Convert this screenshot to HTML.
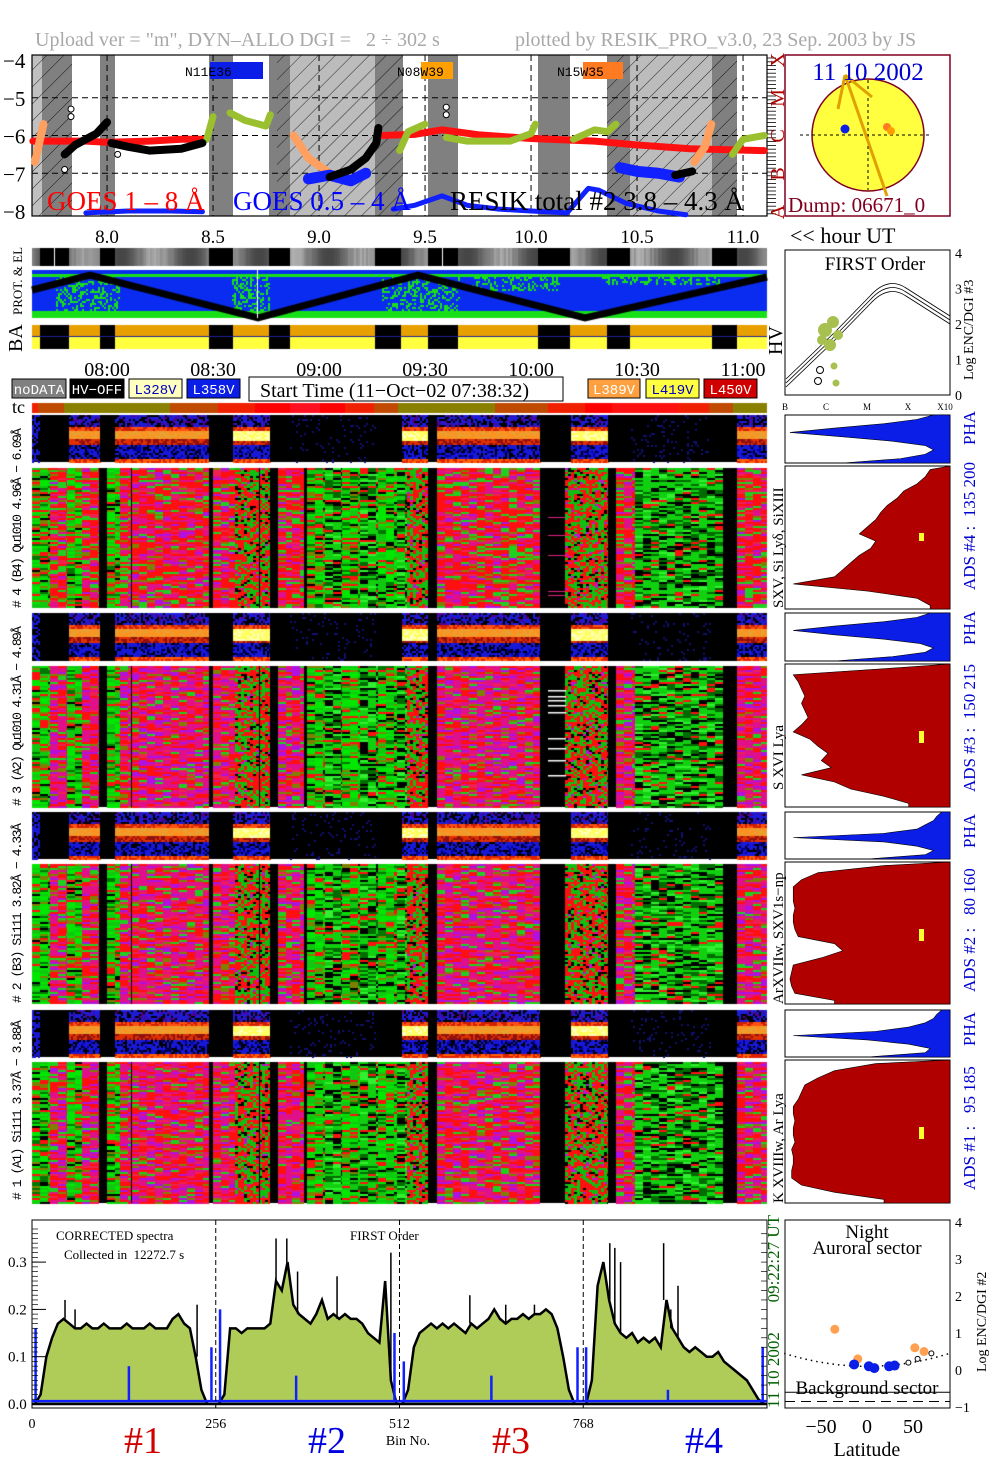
<!DOCTYPE html>
<html><head><meta charset="utf-8"><title>RESIK daily plot</title>
<style>
html,body{margin:0;padding:0;background:#fff;}
#wrap{position:relative;width:1004px;height:1477px;overflow:hidden;background:#fff;}
#tex{position:absolute;left:0;top:0;}
#ov{position:absolute;left:0;top:0;}
text{font-family:"Liberation Serif",serif;white-space:pre;}
.mono{font-family:"Liberation Mono",monospace;}
</style></head>
<body>
<div id="wrap">
<canvas id="tex" width="1004" height="1477"></canvas>
<svg id="ov" width="1004" height="1477" xmlns="http://www.w3.org/2000/svg">
 <g id="goesBg"></g>
 <g id="goesMarks"></g>
 <g id="staticText">
  <text x="35" y="46" font-size="20" fill="#a8a8a8" xml:space="preserve">Upload ver = "m", DYN–ALLO DGI =   2 ÷ 302 s</text>
  <text x="515" y="46" font-size="20" fill="#a8a8a8">plotted by RESIK_PRO_v3.0, 23 Sep. 2003 by JS</text>
  <text x="47" y="210" font-size="27" fill="#ff0000">GOES 1 – 8 Å</text>
  <text x="233" y="210" font-size="27" fill="#0000ff">GOES 0.5 – 4 Å</text>
  <text x="450" y="210" font-size="27" fill="#000">RESIK total #2 3.8 – 4.3 Å</text>
  <text x="790" y="243" font-size="22" fill="#000">&lt;&lt; hour UT</text>
  <text x="22" y="315" font-size="13" fill="#000" transform="rotate(-90 22 315)">PROT. &amp; EL</text>
  <text x="22" y="352" font-size="20" fill="#000" transform="rotate(-90 22 352)">BA</text>
  <text x="782" y="355" font-size="20" fill="#000" transform="rotate(-90 782 355)">HV</text>
  <text x="12" y="413" font-size="18" fill="#000">tc</text>
 </g>
 <g id="legend"></g>
 <g id="circleP"></g>
 <g id="firstP"></g>
 <g id="hists"></g>
 <g id="spec"></g>
 <g id="latP"></g>
</svg>
</div>
<script>
// ---------------- DATA ----------------
const goesTicks = [-4,-5,-6,-7,-8];
const hourTicks = [8.0,8.5,9.0,9.5,10.0,10.5,11.0];
const timeTicks = ["08:00","08:30","09:00","09:30","10:00","10:30","11:00"];
const goesLong = [[[7.65,-6.15],[7.9,-6.15],[8.0,-6.18],[8.2,-6.15],[8.35,-6.1],[8.45,-6.1]],
  [[9.29,-6.0],[9.45,-5.97],[9.58,-5.85],[9.75,-5.98],[10.0,-6.08],[10.3,-6.15],[10.5,-6.25],[10.75,-6.35],[11.1,-6.4]]];
const goesShort = [[[7.9,-8.05],[8.1,-8.0],[8.3,-8.0],[8.45,-8.02]],
  [[8.95,-7.15],[9.05,-7.05],[9.15,-7.2],[9.22,-7.0]],
  [[9.35,-7.95],[9.45,-7.85],[9.58,-7.6],[9.7,-7.85],[9.85,-7.95],[10.0,-8.0],[10.17,-8.05],[10.27,-7.4],[10.32,-7.45],[10.45,-7.8],[10.6,-8.0],[10.73,-8.1]],
  [[10.42,-6.85],[10.5,-6.95],[10.6,-7.0],[10.7,-7.1]]];
const resikTotal = [[[7.8,-6.5],[7.85,-6.25],[7.95,-5.95],[8.0,-5.65]],
  [[8.02,-6.2],[8.1,-6.3],[8.2,-6.4],[8.35,-6.35],[8.45,-6.2]],
  [[9.05,-7.1],[9.15,-6.9],[9.22,-6.6],[9.27,-6.2],[9.28,-5.8]],
  [[10.68,-7.05],[10.76,-6.95]]];
const goesOlive = [[[8.47,-6.1],[8.5,-5.5]],[[8.58,-5.4],[8.65,-5.6],[8.75,-5.75],[8.77,-5.45]],
  [[9.38,-6.4],[9.42,-5.9],[9.5,-5.7]],[[9.6,-6.05],[9.7,-6.15],[9.9,-6.15],[10.0,-5.95],[10.02,-5.7]],
  [[10.2,-6.1],[10.3,-5.85],[10.36,-5.9],[10.4,-5.7]],[[10.95,-6.5],[11.0,-6.1],[11.1,-6.0]]];
const goesOrange = [[[7.66,-6.7],[7.7,-5.7]],[[8.88,-6.0],[8.95,-6.6],[9.05,-7.0]],[[10.77,-6.7],[10.82,-6.3],[10.85,-5.7]]];

const specBins = [0,8,16,24,32,40,48,56,64,72,80,88,96,104,112,120,128,136,144,152,160,168,176,184,192,200,208,216,224,232,240,248,
 256,264,272,280,288,296,304,312,320,328,336,344,352,360,368,376,384,392,400,408,416,424,432,440,448,456,464,472,480,488,496,504,
 512,520,528,536,544,552,560,568,576,584,592,600,608,616,624,632,640,648,656,664,672,680,688,696,704,712,720,728,736,744,752,760,
 768,776,784,792,800,808,816,824,832,840,848,856,864,872,880,888,896,904,912,920,928,936,944,952,960,968,976,984,992,1000,1008,1016];
const specGreen = [0,0.02,0.1,0.14,0.17,0.18,0.17,0.16,0.16,0.17,0.16,0.16,0.17,0.16,0.16,0.16,0.17,0.16,0.16,0.16,0.17,0.16,0.16,0.16,0.18,0.19,0.17,0.16,0.10,0.03,0,0,
 0,0.02,0.16,0.16,0.15,0.16,0.16,0.16,0.16,0.17,0.26,0.24,0.3,0.21,0.19,0.18,0.17,0.19,0.22,0.18,0.19,0.18,0.19,0.18,0.18,0.17,0.15,0.14,0.13,0.26,0.05,0,
 0,0.03,0.12,0.15,0.16,0.17,0.16,0.17,0.16,0.17,0.16,0.15,0.17,0.16,0.17,0.18,0.2,0.18,0.17,0.18,0.18,0.19,0.18,0.19,0.19,0.2,0.19,0.16,0.1,0.03,0,0,
 0,0.05,0.25,0.3,0.22,0.17,0.15,0.14,0.15,0.13,0.14,0.13,0.14,0.12,0.22,0.16,0.14,0.12,0.11,0.12,0.11,0.1,0.1,0.11,0.09,0.08,0.07,0.06,0.05,0.03,0.01,0];
const spikeBins = [46,60,230,340,355,370,425,500,610,660,700,805,812,820,880,890,900];
const spikeVals = [0.22,0.2,0.21,0.35,0.35,0.28,0.27,0.32,0.23,0.21,0.21,0.34,0.33,0.3,0.34,0.2,0.25];
const blueBins = [5,135,250,262,368,505,518,640,760,772,886,1018];
const blueVals = [0.16,0.08,0.12,0.2,0.06,0.15,0.09,0.06,0.12,0.12,0.03,0.12];
const specYTicks = ["0.0","0.1","0.2","0.3"];
const binTicks = [0,256,512,768];

const latOrangeX=[-35,-10,52,62], latOrangeY=[1.1,0.3,0.6,0.5];
const latBlueX=[-14,2,8,24,30], latBlueY=[0.15,0.1,0.05,0.1,0.12];
const latOpenX=[45,55,70], latOpenY=[0.2,0.3,0.45];

const histRed4=[0.88,0.85,0.8,0.72,0.68,0.62,0.58,0.55,0.5,0.45,0.55,0.52,0.45,0.4,0.35,0.3,0.05,0.5,0.8,0.88];
const histRed3=[0.7,0.05,0.08,0.1,0.12,0.1,0.12,0.14,0.1,0.05,0.15,0.2,0.26,0.22,0.28,0.1,0.3,0.4,0.6,0.75];
const histRed2=[0.6,0.2,0.1,0.05,0.05,0.05,0.06,0.05,0.05,0.06,0.08,0.3,0.35,0.22,0.05,0.04,0.03,0.04,0.06,0.3];
const histRed1=[0.55,0.3,0.2,0.12,0.1,0.08,0.05,0.05,0.06,0.05,0.05,0.06,0.04,0.05,0.05,0.04,0.04,0.1,0.3,0.6];
const histPha4=[0.9,0.8,0.6,0.3,0.03,0.35,0.65,0.85,0.9,0.85,0.7,0.35];
const histPha3=[0.88,0.8,0.6,0.3,0.05,0.3,0.6,0.82,0.9,0.85,0.65,0.3];
const histPha2=[0.95,0.92,0.9,0.85,0.8,0.6,0.05,0.6,0.8,0.9,0.85,0.5];
const histPha1=[0.95,0.92,0.9,0.85,0.75,0.55,0.05,0.5,0.75,0.88,0.85,0.5];

// ---------------- helpers ----------------
const NS="http://www.w3.org/2000/svg";
function mk(tag,parent,attrs,name,inter){
  const e=document.createElementNS(NS,tag);
  for(const k in attrs) e.setAttribute(k,attrs[k]);
  
  
  parent.appendChild(e); return e;
}
function txt(parent,x,y,s,size,fill,name,extra){
  const a=Object.assign({x:x,y:y,'font-size':size,fill:fill},extra||{});
  const e=mk('text',parent,a,name,false); e.textContent=s; return e;
}
function hsh(a,b){let n=Math.sin(a*12.9898+b*78.233)*43758.5453;return n-Math.floor(n);}
const xH=h=>32+(h-7.646)*212;
const yL=l=>60+(-4-l)*37.75;

// ---------------- CANVAS TEXTURES ----------------
const cv=document.getElementById('tex').getContext('2d');
const blocks=[[40,69],[100,115],[209,233],[269,290],[375,401],[428,458],[538,570],[607,630],[712,737]];
for(let x=32;x<767;x++){const g=Math.floor(70+110*(0.5+0.5*Math.sin(x/11))*(0.7+0.3*hsh(Math.floor(x/2),3)));cv.fillStyle=`rgb(${g},${g},${g})`;cv.fillRect(x,248,1,18);}
cv.fillStyle='#000';blocks.forEach(b=>cv.fillRect(b[0],248,b[1]-b[0],18));
cv.fillStyle='#fff';cv.fillRect(54,248,1,18);cv.fillRect(442,248,1,18);
// PROT panel
cv.fillStyle='#0a2cf0';cv.fillRect(32,270,735,48);
cv.fillStyle='#18e018';
cv.fillRect(32,274,735,3);cv.fillRect(32,311,735,7);
for(let x=32;x<767;x+=2)for(let y=277;y<311;y+=2){const near=Math.abs(Math.sin((x-90)/50))*0.0;const r=hsh(x,y);
  const z=(x>55&&x<120)||(x>230&&x<270)||(x>380&&x<460)||(x>470&&x<560&&y<290)||(x>600&&x<720&&y<285);
  if(z&&r<0.35){cv.fillRect(x,y,2,2);}}
cv.strokeStyle='#000';cv.lineWidth=7;cv.beginPath();
[[32,290],[90,275],[258,318],[418,275],[585,318],[767,277]].forEach((p,i)=>i?cv.lineTo(p[0],p[1]):cv.moveTo(p[0],p[1]));cv.stroke();
cv.fillStyle='#fff';cv.fillRect(257,270,1,48);
// BA bar
cv.fillStyle='#e8a000';cv.fillRect(32,325,735,12);cv.fillStyle='#ffff40';cv.fillRect(32,337,735,12);
cv.fillStyle='#000';blocks.forEach(b=>cv.fillRect(b[0],325,b[1]-b[0],24));
cv.fillStyle='#20209a';cv.fillRect(32,336,735,1);
// tc bar
const tcSeg=[[32,38,'#f02000'],[38,64,'#c04a00'],[64,170,'#8a8000'],[170,218,'#c04a00'],[218,255,'#f02000'],[255,290,'#ff0000'],[290,320,'#ff1020'],[320,345,'#ff0000'],[345,374,'#f02000'],[374,398,'#c04a00'],[398,495,'#8a8000'],[495,548,'#c04a00'],[548,585,'#f02000'],[585,612,'#ff0000'],[612,679,'#ff1010'],[679,709,'#f02000'],[709,733,'#c04a00'],[733,767,'#8a8000']];
tcSeg.forEach(s=>{cv.fillStyle=s[2];cv.fillRect(s[0],403,s[1]-s[0],10);});
// big spectrograms
const segs=[[32,50,'g'],[50,67,'r'],[67,82,'g'],[82,99,'r'],[99,107,'k'],[107,120,'g'],[120,131,'r'],[131,209,'r'],[209,213,'k'],[213,235,'r'],[235,270,'x'],[270,278,'k'],[278,292,'r'],[292,304,'r'],[304,307,'k'],[307,325,'g'],[325,342,'d'],[342,360,'g'],[360,378,'d'],[378,397,'g'],[397,407,'d'],[407,428,'x'],[428,437,'k'],[437,540,'r'],[540,565,'k'],[565,608,'x'],[608,616,'k'],[616,635,'r'],[635,723,'d'],[723,737,'k'],[737,767,'r']];
function pick(t,r,mag){
  if(t==='g'){return r<0.55?(r<0.3?'#00e800':'#10c810'):r<0.7?'#ff1010':r<0.82?'#808000':r<0.93?'#007800':'#000';}
  if(t==='r'){return r<0.5-mag?'#ff0f10':r<0.62?'#e0108a':r<0.62+mag*0.6?'#b010e0':r<0.85?'#20d020':r<0.93?'#808000':'#f02050';}
  if(t==='d'){return r<0.4?'#10d010':r<0.6?'#006c00':r<0.8?'#000':r<0.9?'#30f030':'#ff1010';}
  return r<0.45?'#ff1010':r<0.85?'#10c010':r<0.95?'#000':'#c010d0';
}
function bigPanel(y0,y1,mag,seed){
  segs.forEach(s=>{
    if(s[2]==='k'){cv.fillStyle='#000';cv.fillRect(s[0],y0,s[1]-s[0],y1-y0);return;}
    const w=s[2]==='x'?3:8;
    for(let x=s[0];x<s[1];x+=w){const ww=Math.min(w,s[1]-x);
      for(let y=y0;y<y1;y+=2){cv.fillStyle=pick(s[2],hsh(x+seed,y),mag);cv.fillRect(x,y,ww,2);}}
  });
  cv.fillStyle='#000';cv.fillRect(131,y0,1,y1-y0);cv.fillRect(259,y0,1,y1-y0);
}
bigPanel(468,608,0.1,1);bigPanel(666,807,0.25,7);bigPanel(864,1004,0.2,13);bigPanel(1062,1203,0.2,19);
cv.fillStyle='#fff';[690,696,700,705,712,738,748,760,775].forEach(y=>cv.fillRect(548,y,18,1.5));
cv.fillStyle='#e02080';[517,535,555,591,595].forEach(y=>cv.fillRect(548,y,18,1));
// PHA strips
const phaSegs=[[32,40,'b'],[40,69,'k'],[69,100,'o'],[100,115,'k'],[115,209,'o'],[209,233,'k'],[233,270,'y'],[270,290,'k'],[290,376,'s'],[376,402,'k'],[402,428,'y'],[428,437,'k'],[437,540,'o'],[540,571,'k'],[571,608,'y'],[608,631,'k'],[631,711,'s'],[711,737,'k'],[737,767,'o']];
function phaPanel(y0,y1,seed){
  const H=y1-y0;
  phaSegs.forEach(s=>{
    cv.fillStyle='#000';cv.fillRect(s[0],y0,s[1]-s[0],H);
    if(s[2]==='k')return;
    for(let x=s[0];x<s[1];x+=2)for(let y=y0;y<y1;y+=2){
      const f=(y-y0)/H,r=hsh(x*1.3+seed,y);let c=null;
      if(s[2]==='s'){if(r<0.08)c='#101070';}
      else if(s[2]==='b'){c=r<0.6?'#1818d0':null;}
      else{
        const yel=s[2]==='y';
        if(f<0.25)c=r<0.5?'#1c1cd8':(r<0.65?'#500090':null);
        else if(f<0.33)c=r<0.5?'#d02000':'#ff5010';
        else if(f<(yel?0.55:0.5))c=yel?(r<0.6?'#ffff60':'#ffffc0'):(r<0.5?'#ff9020':'#e8a030');
        else if(f<0.6)c=r<0.5?'#e03000':'#901010';
        else if(f<0.9)c=r<0.55?'#1818d8':(r<0.7?'#0000a0':null);
        else c=r<0.5?'#ff6000':'#e02000';
      }
      if(c){cv.fillStyle=c;cv.fillRect(x,y,2,2);}
    }
  });
}
phaPanel(415,462,2);phaPanel(613,661,5);phaPanel(812,859,9);phaPanel(1010,1057,11);

// ---------------- GOES panel ----------------
const gB=document.getElementById('goesBg');
mk('rect',gB,{x:32,y:55,width:735,height:161,fill:'#fff',stroke:'none'},'goes-plot-area',false);
const bands=[[32,42,'#c0c0c0',1],[42,72,'#808080',1],[100,115,'#808080',0],[209,233,'#808080',0],[269,277,'#808080',0],[277,290,'#808080',1],[290,375,'#bcbcbc',1],[375,403,'#808080',1],[428,458,'#808080',0],[538,570,'#808080',0],[607,630,'#808080',1],[630,712,'#bcbcbc',1],[712,737,'#808080',1]];
const defs=mk('defs',gB,{},'defs',false);
const pat=mk('pattern',defs,{id:'hatch',width:12,height:12,patternUnits:'userSpaceOnUse',patternTransform:'rotate(45)'},'hatch-pattern',false);
mk('line',pat,{x1:0,y1:0,x2:0,y2:12,stroke:'#000','stroke-width':0.8},'hatch-line',false);
bands.forEach(b=>{mk('rect',gB,{x:b[0],y:55,width:b[1]-b[0],height:161,fill:b[2]},'occultation-band',false);
  if(b[3])mk('rect',gB,{x:b[0],y:55,width:b[1]-b[0],height:161,fill:'url(#hatch)'},'hatched-band',false);});
goesTicks.forEach((t,i)=>{const y=yL(t);
  if(i>0&&i<4)mk('line',gB,{x1:32,x2:767,y1:y,y2:y,stroke:'#000','stroke-dasharray':'6,4','stroke-width':1},'goes-gridline',false);
  txt(gB,3,y+8,'−'+Math.abs(t),21,'#000','goes-y-tick');});
hourTicks.forEach((h,i)=>{const x=xH(h);
  mk('line',gB,{x1:x,x2:x,y1:55,y2:216,stroke:'#000','stroke-dasharray':'6,4','stroke-width':1},'goes-time-gridline',false);
  txt(gB,x,243,h.toFixed(1),19,'#000','hour-tick-label',{'text-anchor':'middle'});
  txt(gB,x,376,timeTicks[i],20,'#000','ut-time-label',{'text-anchor':'middle'});});
mk('rect',gB,{x:32,y:55,width:735,height:161,fill:'none',stroke:'#000','stroke-width':1.2},'goes-frame',false);
for(let y=58;y<216;y+=3.8){mk('line',gB,{x1:767,x2:776,y1:y,y2:y,stroke:'#000','stroke-width':0.8},'flux-class-tick',false);}
[['X',60],['M',98],['C',136],['B',174],['A',212]].forEach(c=>txt(gB,784,c[1],c[0],20,'#b00000','flux-class-label',{transform:`rotate(-90 784 ${c[1]})`,'text-anchor':'middle'}));
mk('rect',gB,{x:210,y:62,width:53,height:17,fill:'#0a1ee8'},'region-box-n11e36',false);
txt(gB,185,76,'N11E36',13,'#000','region-label-n11e36',{class:'mono'});
mk('rect',gB,{x:421,y:62,width:32,height:17,fill:'#ffa000'},'region-box-n08w39',false);
txt(gB,397,76,'N08W39',13,'#000','region-label-n08w39',{class:'mono'});
mk('rect',gB,{x:583,y:62,width:40,height:17,fill:'#ff7a20'},'region-box-n15w35',false);
txt(gB,557,76,'N15W35',13,'#000','region-label-n15w35',{class:'mono'});

const gM=document.getElementById('goesMarks');
function pl(arr,stroke,w,name){const pts=arr.map(p=>xH(p[0])+','+yL(p[1])).join(' ');
  mk('polyline',gM,{points:pts,fill:'none',stroke:stroke,'stroke-width':w,'stroke-linejoin':'round','stroke-linecap':'round'},name,false);}
goesLong.forEach(s=>pl(s,'#ff1010',7,'goes-long-line'));
goesOrange.forEach(s=>pl(s,'#ffa060',8,'goes-orange-line'));
goesOlive.forEach(s=>pl(s,'#9ac030',7,'goes-olive-line'));
goesShort.forEach((s,i)=>pl(s,'#1020ff',i===1||i===3?11:5,'goes-short-line'));
resikTotal.forEach(s=>pl(s,'#000',8,'resik-total-line'));
[[7.83,-5.3],[7.83,-5.5],[9.6,-5.25],[9.6,-5.45],[7.8,-6.9],[8.05,-6.5]].forEach(p=>mk('circle',gM,{cx:xH(p[0]),cy:yL(p[1]),r:3,fill:'#fff',stroke:'#000'},'resik-open-point',false));

// ---------------- Legend ----------------
const lg=document.getElementById('legend');
[[12,66,'#808080','#fff','noDATA'],[70,124,'#000','#fff','HV−OFF'],[129,182,'#ffffc0','#0000c0','L328V'],[187,240,'#0a1ee8','#fff','L358V'],[588,640,'#ffa040','#fff','L389V'],[646,699,'#ffff40','#0000c0','L419V'],[704,757,'#d00000','#fff','L450V']].forEach(b=>{
  mk('rect',lg,{x:b[0],y:379,width:b[1]-b[0],height:19,fill:b[2],stroke:'#000'},'legend-swatch',false);
  txt(lg,(b[0]+b[1])/2,394,b[4],14,b[3],'legend-label',{'text-anchor':'middle',class:'mono'});});
mk('rect',lg,{x:249,y:377,width:314,height:24,fill:'#fff',stroke:'#000'},'start-time-box',false);
txt(lg,260,397,'Start Time (11−Oct−02 07:38:32)',20,'#000','start-time-label');

// ---------------- Sun disk ----------------
const cp=document.getElementById('circleP');
mk('rect',cp,{x:785,y:55,width:165,height:161,fill:'#fff',stroke:'#800020','stroke-width':1.5},'sun-panel-frame',false);
mk('circle',cp,{cx:868,cy:135,r:56,fill:'#ffff40',stroke:'#800020','stroke-width':1.5},'sun-disk',false);
mk('line',cp,{x1:800,x2:932,y1:135,y2:135,stroke:'#000','stroke-dasharray':'3,3'},'sun-equator',false);
mk('line',cp,{x1:868,x2:868,y1:80,y2:190,stroke:'#000','stroke-dasharray':'3,3'},'sun-meridian',false);
mk('circle',cp,{cx:845,cy:129,r:4.5,fill:'#0a1ee8'},'region-dot-blue',false);
mk('circle',cp,{cx:887,cy:127,r:4,fill:'#ff7a20'},'region-dot-orange',false);
mk('circle',cp,{cx:891,cy:131,r:4,fill:'#ffa000'},'region-dot-orange2',false);
[[838,109],[872,97],[887,196]].forEach(p=>mk('line',cp,{x1:845,y1:75,x2:p[0],y2:p[1],stroke:'#e0a000','stroke-width':3},'flare-pointer',false));
txt(cp,868,80,'11 10 2002',25,'#0000d0','date-label',{'text-anchor':'middle'});
txt(cp,788,212,'Dump: 06671_0',21,'#800020','dump-label');

// ---------------- FIRST order plot ----------------
const fp=document.getElementById('firstP');
mk('rect',fp,{x:785,y:250,width:165,height:145,fill:'#fff',stroke:'#000'},'first-order-frame',false);
const fYv=v=>395-v*35.5;
[0,1,2,3,4].forEach(v=>txt(fp,955,fYv(v)+5,String(v),14,'#000','first-order-y-tick'));
[['B',785],['C',826],['M',867],['X',908],['X10',945]].forEach(t=>txt(fp,t[1],410,t[0],9,'#000','first-order-x-tick',{'text-anchor':'middle'}));
txt(fp,875,270,'FIRST Order',19,'#000','first-order-title',{'text-anchor':'middle'});
txt(fp,973,380,'Log ENC/DGI #3',14,'#000','first-order-y-title',{transform:'rotate(-90 973 380)'});
[-4,0,4].forEach(o=>mk('path',fp,{d:`M786 ${383+o} L835 ${336+o} L870 ${300+o} Q888 ${280+o} 906 ${292+o} L950 ${320+o}`,fill:'none',stroke:'#000','stroke-width':0.8},'first-order-curve',false));
[[825,330,7],[833,322,6],[830,345,6],[822,340,5],[838,335,5]].forEach(c=>mk('circle',fp,{cx:c[0],cy:c[1],r:c[2],fill:'#a8c050'},'first-order-point',false));
[[820,370],[818,381],[834,366],[836,383]].forEach(c=>mk('circle',fp,{cx:c[0],cy:c[1],r:3.5,fill:c[0]>830?'#a8c050':'#fff',stroke:c[0]>830?'none':'#000'},'first-order-point',false));

// ---------------- right histograms ----------------
const hg=document.getElementById('hists');
function redHist(y0,y1,arr,name){const n=arr.length,dh=(y1-y0)/n;let d=`M950 ${y0}`;
  arr.forEach((v,i)=>{const x=785+v*165;d+=` L${x} ${y0+i*dh+dh*0.5}`;});d+=` L${785+arr[n-1]*165} ${y1} L950 ${y1} Z`;
  mk('rect',hg,{x:785,y:y0,width:165,height:y1-y0,fill:'#fff',stroke:'#000'},name+'-frame',false);
  mk('path',hg,{d:d,fill:'#b00000',stroke:'#000','stroke-width':0.6},name,false);}
function phaHist(y0,y1,arr,name){const n=arr.length,dh=(y1-y0)/(n-1);let d=`M950 ${y0}`;
  arr.forEach((v,i)=>{d+=` L${785+v*165} ${y0+i*dh}`;});d+=` L950 ${y1} Z`;
  mk('rect',hg,{x:785,y:y0,width:165,height:y1-y0,fill:'#fff',stroke:'#000'},name+'-frame',false);
  mk('path',hg,{d:d,fill:'#0a1ee8',stroke:'#000','stroke-width':0.6},name,false);}
phaHist(415,463,histPha4,'pha-hist-4');redHist(466,609,histRed4,'ads-hist-4');
phaHist(613,661,histPha3,'pha-hist-3');redHist(664,807,histRed3,'ads-hist-3');
phaHist(812,859,histPha2,'pha-hist-2');redHist(862,1004,histRed2,'ads-hist-2');
phaHist(1010,1057,histPha1,'pha-hist-1');redHist(1060,1203,histRed1,'ads-hist-1');
[[537,535],[735,733],[933,931],[1131,1129]].forEach(m=>mk('rect',hg,{x:919,y:m[0]-4,width:5,height:m[0]===537?8:12,fill:'#ffff30'},'pha-marker',false));
[[975,445,'PHA'],[975,590,'ADS #4 :  135 200'],[975,645,'PHA'],[975,792,'ADS #3 :  150 215'],[975,848,'PHA'],[975,992,'ADS #2 :   80 160'],[975,1046,'PHA'],[975,1190,'ADS #1 :   95 185']].forEach(l=>
  txt(hg,l[0],l[1],l[2],17,'#0000d0','ads-label',{transform:`rotate(-90 ${l[0]} ${l[1]})`}));
[[783,608,'SXV, Si Lyδ, SiXIII'],[783,790,'S XVI Lya'],[783,1004,'ArXVIIw, SXV1s−np'],[783,1203,'K XVIIIw, Ar Lya']].forEach(l=>
  txt(hg,l[0],l[1],l[2],15,'#000','line-id-label',{transform:`rotate(-90 ${l[0]} ${l[1]})`}));
[[21,608,'# 4 (B4) Qu1010 4.96Å − 6.09Å'],[21,806,'# 3 (A2) Qu1010 4.31Å − 4.89Å'],[21,1003,'# 2 (B3) Si111 3.82Å − 4.33Å'],[21,1200,'# 1 (A1) Si111 3.37Å − 3.88Å']].forEach(l=>
  txt(hg,l[0],l[1],l[2],13,'#000','spectrometer-label',{transform:`rotate(-90 ${l[0]} ${l[1]})`,class:'mono','textLength':'180'}));

// ---------------- bottom spectrum ----------------
const sp=document.getElementById('spec');
const xB=b=>32+b*(735/1024), yS=v=>1404-v*473;
mk('rect',sp,{x:32,y:1220,width:735,height:188,fill:'#fff',stroke:'#000'},'spectrum-frame',false);
let d=`M${xB(0)} ${yS(0)}`;specBins.forEach((b,i)=>{d+=` L${xB(b+4)} ${yS(specGreen[i])}`;});d+=` L${xB(1024)} ${yS(0)} Z`;
mk('path',sp,{d:d,fill:'#b0cc58',stroke:'#000','stroke-width':2.5},'spectrum-area',false);
spikeBins.forEach((b,i)=>mk('line',sp,{x1:xB(b),x2:xB(b),y1:yS(specGreen[Math.floor(b/8)]),y2:yS(spikeVals[i]),stroke:'#000','stroke-width':1.5},'spectrum-spike',false));
mk('line',sp,{x1:32,x2:767,y1:yS(0.006),y2:yS(0.006),stroke:'#1020ff','stroke-width':2.5},'blue-baseline',false);
blueBins.forEach((b,i)=>mk('line',sp,{x1:xB(b),x2:xB(b),y1:yS(0.006),y2:yS(blueVals[i]),stroke:'#1020ff','stroke-width':2.5},'blue-spike',false));
[256,512,768].forEach(b=>mk('line',sp,{x1:xB(b),x2:xB(b),y1:1220,y2:1408,stroke:'#000','stroke-dasharray':'5,3'},'detector-divider',false));
specYTicks.forEach((t,i)=>{const y=yS(i*0.1);txt(sp,8,y+5,t,15,'#000','spectrum-y-tick');
  mk('line',sp,{x1:32,x2:46,y1:y,y2:y,stroke:'#000'},'spectrum-major-tick',false);});
for(let v=0;v<=0.38;v+=0.01)mk('line',sp,{x1:32,x2:38,y1:yS(v),y2:yS(v),stroke:'#000','stroke-width':0.7},'spectrum-minor-tick',false);
for(let v=0;v<=0.38;v+=0.02)mk('line',sp,{x1:761,x2:767,y1:yS(v),y2:yS(v),stroke:'#000','stroke-width':0.7},'spectrum-right-tick',false);
binTicks.forEach(b=>txt(sp,xB(b),1428,String(b),14,'#000','bin-tick-label',{'text-anchor':'middle'}));
txt(sp,408,1445,'Bin No.',14,'#000','bin-axis-title',{'text-anchor':'middle'});
txt(sp,56,1240,'CORRECTED spectra',13,'#000','spectrum-title');
txt(sp,64,1259,'Collected in  12272.7 s',13,'#000','collected-label');
txt(sp,350,1240,'FIRST Order',13,'#000','spectrum-order-label');
[['#1',143,'#d00000'],['#2',327,'#0000e0'],['#3',511,'#d00000'],['#4',704,'#0000e0']].forEach(l=>txt(sp,l[1],1453,l[0],38,l[2],'detector-number',{'text-anchor':'middle'}));
txt(sp,779,1408,'11 10 2002       09:22:27 UT',17,'#006000','spectrum-date-label',{transform:'rotate(-90 779 1408)'});

// ---------------- latitude plot ----------------
const lp=document.getElementById('latP');
const xLa=v=>867+v*0.92, yLa=v=>1370-v*37;
mk('rect',lp,{x:785,y:1220,width:165,height:188,fill:'#fff',stroke:'#000'},'latitude-frame',false);
let dd='';for(let a=-90;a<=90;a+=5){const v=0.1+0.35*(a/90)*(a/90);dd+=(a===-90?'M':' L')+xLa(a)+' '+yLa(v);}
mk('path',lp,{d:dd,fill:'none',stroke:'#000','stroke-dasharray':'1.5,4','stroke-width':1.5},'latitude-trend',false);
mk('line',lp,{x1:785,x2:950,y1:yLa(-0.85),y2:yLa(-0.85),stroke:'#000','stroke-dasharray':'10,6'},'background-threshold',false);
mk('line',lp,{x1:785,x2:950,y1:yLa(-0.6),y2:yLa(-0.6),stroke:'#000'},'background-line',false);
latOrangeX.forEach((x,i)=>mk('circle',lp,{cx:xLa(x),cy:yLa(latOrangeY[i]),r:4.5,fill:'#ffa050'},'latitude-point-orange',false));
latBlueX.forEach((x,i)=>mk('circle',lp,{cx:xLa(x),cy:yLa(latBlueY[i]),r:5,fill:'#0a1ee8'},'latitude-point-blue',false));
latOpenX.forEach((x,i)=>mk('circle',lp,{cx:xLa(x),cy:yLa(latOpenY[i]),r:2.5,fill:'#fff',stroke:'#000'},'latitude-point-open',false));
[4,3,2,1,0,-1].forEach(v=>txt(lp,955,yLa(v)+5,v<0?'−1':String(v),14,'#000','latitude-y-tick'));
[-50,0,50].forEach(v=>txt(lp,xLa(v),1433,v<0?'−50':String(v),20,'#000','latitude-x-tick',{'text-anchor':'middle'}));
txt(lp,867,1456,'Latitude',20,'#000','latitude-axis-title',{'text-anchor':'middle'});
txt(lp,867,1238,'Night',19,'#000','night-label',{'text-anchor':'middle'});
txt(lp,867,1254,'Auroral sector',19,'#000','auroral-label',{'text-anchor':'middle'});
txt(lp,867,1394,'Background sector',19,'#000','background-label',{'text-anchor':'middle'});
txt(lp,986,1372,'Log ENC/DGI #2',14,'#000','latitude-y-title',{transform:'rotate(-90 986 1372)'});
</script>
</body></html>
